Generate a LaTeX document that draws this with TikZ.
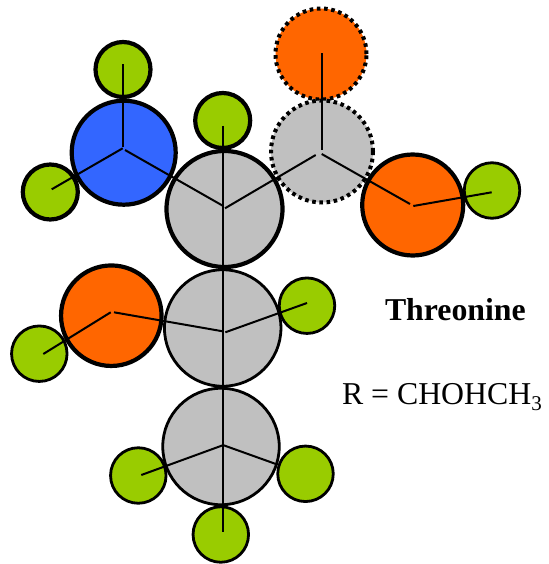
\documentclass[tikz,border=0pt]{standalone}
\usepackage{fontspec}
\setmainfont{Liberation Serif}
\definecolor{gr}{HTML}{99CC00}
\definecolor{gy}{HTML}{C0C0C0}
\definecolor{or}{HTML}{FF6600}
\definecolor{bl}{HTML}{3366FF}
\tikzset{
  x=1pt,y=-1pt,
  atom/.style={circle,draw=black,inner sep=0pt,outer sep=0pt},
  thick3/.style={line width=4.2pt},
  thin2/.style={line width=2.8pt},
  dotty/.style={line width=4pt,dash pattern=on 3.6pt off 3.6pt},
  bigatom/.style={atom,minimum size=#1},
  bond/.style={line width=2pt,draw=black},
  lab/.style={inner sep=0pt,outer sep=0pt,anchor=base west}
}
\begin{document}
\begin{tikzpicture}
\useasboundingbox (0,0) rectangle (548,564);
% third residue
\node[bigatom=55.5pt,fill=gr,thin2] (h7) at (220.8,534.5) {};
\node[bigatom=55.5pt,fill=gr,thin2] (h5) at (138.3,475.5) {};
\node[bigatom=55.5pt,fill=gr,thin2] (h6) at (305.5,473.8) {};
\node[bigatom=116.5pt,fill=gy,thin2] (c3) at (221,446.5) {};
% second residue
\node[bigatom=55.5pt,fill=gr,thin2] (h3) at (39.3,353.7) {};
\node[bigatom=55.5pt,fill=gr,thin2] (h4) at (307,305.7) {};
\node[bigatom=100.5pt,fill=or,thick3] (o1) at (111.3,315.7) {};
\node[bigatom=116.5pt,fill=gy,thin2] (c2) at (222.7,328) {};
% top residue
\node[bigatom=55pt,fill=gr,thick3] (h1) at (123,69.5) {};
\node[bigatom=55pt,fill=gr,thick3] (h2) at (50.3,192) {};
\node[bigatom=55pt,fill=gr,thick3] (h8) at (222.7,120.5) {};
\node[bigatom=104pt,fill=bl,thick3] (n) at (123.7,152.7) {};
\node[bigatom=116pt,fill=gy,thick3] (c1) at (224.5,209) {};
\node[bigatom=91pt,fill=or,dotty] (o2) at (321,54) {};
\node[bigatom=102pt,fill=gy,dotty] (c4) at (322,151.5) {};
\node[bigatom=55.5pt,fill=gr,thin2] (h9) at (492,190.5) {};
\node[bigatom=101pt,fill=or,thick3] (o3) at (412.7,205) {};
% bond ends
\coordinate (a1) at (123.3,64.3);
\coordinate (a2) at (123.3,146.7);
\coordinate (a3) at (51.7,189.3);
\coordinate (a4) at (122.7,148.3);
\coordinate (a5) at (125,150);
\coordinate (a6) at (222.7,205.7);
\coordinate (b1) at (223,126);
\coordinate (b2) at (223,531.7);
\coordinate (b3) at (225,208.3);
\coordinate (b4) at (315.7,155);
\coordinate (d1) at (322.3,53.3);
\coordinate (d2) at (322.3,150);
\coordinate (d3) at (321.7,154);
\coordinate (d4) at (410,204);
\coordinate (d5) at (413.3,206);
\coordinate (d6) at (491.7,192.3);
\coordinate (e1) at (114,312.3);
\coordinate (e2) at (222.7,331.3);
\coordinate (e3) at (225.3,332.3);
\coordinate (e4) at (307,303);
\coordinate (e5) at (110.7,312.3);
\coordinate (e6) at (43.3,354);
\coordinate (f1) at (222.7,445.3);
\coordinate (f2) at (141.3,475);
\coordinate (f3) at (223.7,445.3);
\coordinate (f4) at (276.7,464.3);
\draw[bond] (a1) -- (a2);
\draw[bond] (a3) -- (a4);
\draw[bond] (a5) -- (a6);
\draw[bond] (b1) -- (b2);
\draw[bond] (b3) -- (b4);
\draw[bond] (d1) -- (d2);
\draw[bond] (d3) -- (d4);
\draw[bond] (d5) -- (d6);
\draw[bond] (e1) -- (e2);
\draw[bond] (e3) -- (e4);
\draw[bond] (e5) -- (e6);
\draw[bond] (f1) -- (f2);
\draw[bond] (f3) -- (f4);
\node[lab,font=\fontsize{31.8}{33}\selectfont\bfseries] (t1) at (385,320) {Threonine};
\node[lab,font=\fontsize{31.8}{33}\selectfont] (t2) at (342,404) {R = CHOHCH\raisebox{-6pt}{\fontsize{21}{22}\selectfont 3}};
\end{tikzpicture}
\end{document}
